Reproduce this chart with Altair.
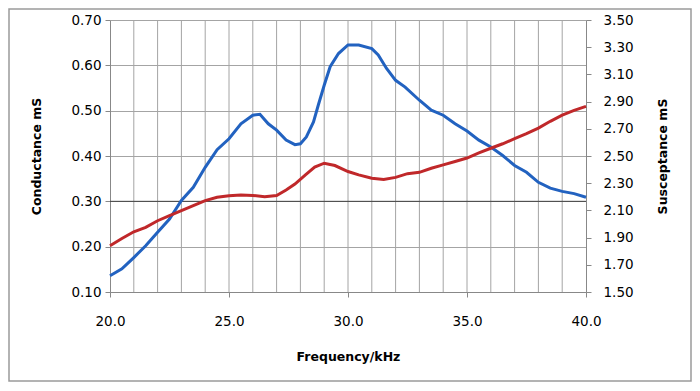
import altair as alt
import pandas as pd

# Conductance (blue, left axis)
freq_g = [20.0, 20.5, 21.0, 21.5, 22.0, 22.5, 23.0, 23.5, 24.0, 24.5, 25.0, 25.5, 26.0, 26.3,
          26.65, 27.0, 27.4, 27.77, 28.0, 28.25, 28.55, 28.75, 29.0, 29.25, 29.6, 30.0, 30.45,
          31.0, 31.27, 31.62, 32.0, 32.4, 33.0, 33.5, 34.0, 34.5, 35.0, 35.5, 36.0, 36.5, 37.0,
          37.5, 38.0, 38.5, 39.0, 39.5, 40.0]
conductance = [0.136, 0.151, 0.176, 0.202, 0.232, 0.261, 0.302, 0.331, 0.375, 0.414, 0.438,
               0.471, 0.490, 0.492, 0.471, 0.457, 0.435, 0.425, 0.427, 0.442, 0.475, 0.512,
               0.556, 0.597, 0.626, 0.645, 0.645, 0.637, 0.623, 0.593, 0.567, 0.552, 0.523,
               0.501, 0.490, 0.471, 0.455, 0.435, 0.420, 0.401, 0.379, 0.364, 0.342, 0.329,
               0.322, 0.317, 0.309]

# Susceptance (red, right axis)
freq_b = [20.0, 20.5, 21.0, 21.5, 22.0, 22.5, 23.0, 23.5, 24.0, 24.5, 25.0, 25.5, 26.0, 26.5,
          27.0, 27.4, 27.77, 28.2, 28.6, 29.0, 29.45, 30.0, 30.45, 31.0, 31.5, 32.0, 32.5, 33.0,
          33.5, 34.0, 34.5, 35.0, 35.5, 36.0, 36.5, 37.0, 37.5, 38.0, 38.5, 39.0, 39.5, 40.0]
susceptance = [1.840, 1.893, 1.943, 1.975, 2.024, 2.061, 2.098, 2.135, 2.172, 2.196, 2.207,
               2.213, 2.210, 2.200, 2.210, 2.250, 2.294, 2.360, 2.418, 2.447, 2.430, 2.386,
               2.361, 2.336, 2.327, 2.343, 2.370, 2.380, 2.410, 2.435, 2.460, 2.485, 2.523,
               2.557, 2.590, 2.627, 2.664, 2.705, 2.755, 2.800, 2.836, 2.865]

x_ticks = [20.0, 25.0, 30.0, 35.0, 40.0]
x_grid = [float(v) for v in range(21, 40)]
g_ticks = [0.1, 0.2, 0.3, 0.4, 0.5, 0.6, 0.7]
b_ticks = [1.5, 1.7, 1.9, 2.1, 2.3, 2.5, 2.7, 2.9, 3.1, 3.3, 3.5]
dark_line = [0.3]

df_g = pd.DataFrame({"f": freq_g, "g": conductance})
df_b = pd.DataFrame({"f": freq_b, "b": susceptance})
df_grid = pd.DataFrame({"f": x_grid})
df_dark = pd.DataFrame({"v": dark_line})

W, H = 476, 272
xscale = alt.Scale(domain=[20, 40], nice=False, zero=False)
gscale = alt.Scale(domain=[0.1, 0.7], nice=False, zero=False)
bscale = alt.Scale(domain=[1.5, 3.5], nice=False, zero=False)

common_axis = dict(
    labelFont="DejaVu Sans", labelFontSize=13.5, labelColor="black",
    titleFont="DejaVu Sans", titleFontSize=12.5, titleFontWeight="bold", titleColor="black",
    domainColor="#888888", tickColor="#888888", tickSize=5,
)
x_axis = alt.Axis(values=x_ticks, format=".1f", grid=False, title="Frequency/kHz",
                  labelFlush=False, labelPadding=17, titlePadding=23, **common_axis)

frame = alt.Chart(pd.DataFrame({"a": [0]})).mark_rect(
    fill="white", fillOpacity=0, stroke="#9A9A9A", strokeWidth=1.5
).encode(x=alt.value(-101), x2=alt.value(W + 105), y=alt.value(-11), y2=alt.value(H + 89))

vgrid = alt.Chart(df_grid).mark_rule(color="#A4A4A4", strokeWidth=1).encode(
    x=alt.X("f:Q", scale=xscale, axis=x_axis)
)

dark = alt.Chart(df_dark).mark_rule(color="#404040", strokeWidth=1).encode(
    y=alt.Y("v:Q", scale=gscale, axis=None)
)

line_g = alt.Chart(df_g).mark_line(color="#2262C0", strokeWidth=3).encode(
    x=alt.X("f:Q", scale=xscale, axis=x_axis),
    y=alt.Y("g:Q", scale=gscale,
            axis=alt.Axis(values=g_ticks, format=".2f", grid=True, gridColor="#A4A4A4",
                          orient="left", title="Conductance mS", labelPadding=4,
                          titlePadding=27, **common_axis)),
)

line_b = alt.Chart(df_b).mark_line(color="#C0282A", strokeWidth=3).encode(
    x=alt.X("f:Q", scale=xscale, axis=x_axis),
    y=alt.Y("b:Q", scale=bscale,
            axis=alt.Axis(values=b_ticks, format=".2f", grid=False, orient="right",
                          title="Susceptance mS", titleAngle=270, labelPadding=12,
                          titlePadding=36, **common_axis)),
)

chart = alt.layer(frame, vgrid, dark, line_g, line_b).resolve_scale(y="independent").properties(
    width=W, height=H,
    autosize=alt.AutoSizeParams(type="none"),
    padding={"left": 102, "top": 12, "right": 106, "bottom": 90},
    background="white",
).configure_view(stroke="transparent")

chart.save("out.html", embed_options={"renderer": "svg", "actions": False})
